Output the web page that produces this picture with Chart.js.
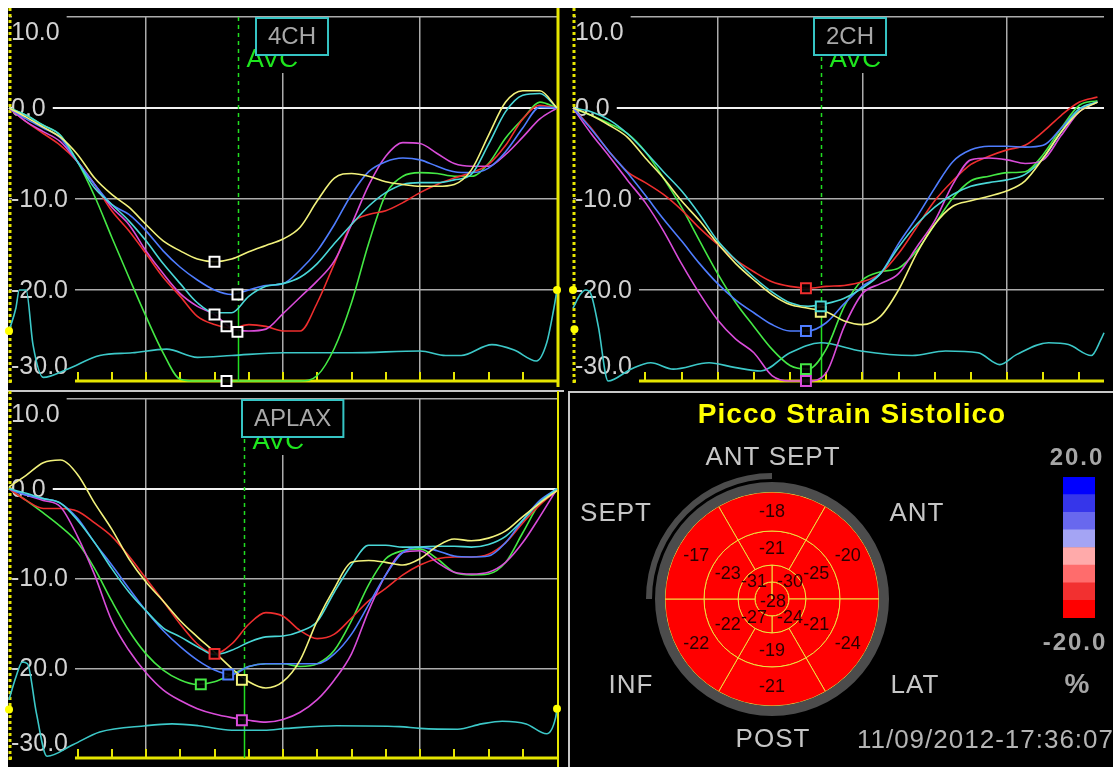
<!DOCTYPE html>
<html><head><meta charset="utf-8">
<script src="https://cdn.jsdelivr.net/npm/chart.js@4.4.1/dist/chart.umd.min.js"></script>
<style>
html,body{margin:0;padding:0;background:#fff;width:1113px;height:767px;overflow:hidden;}
#bg{position:absolute;left:8px;top:8px;width:1105px;height:759px;background:#000;}
canvas{position:absolute;}
.ln{position:absolute;background:#c8c8c8;}
</style></head><body>
<div id="bg"></div>
<div class="ln" style="left:8px;top:390px;width:556px;height:2px;"></div>
<div class="ln" style="left:568px;top:391px;width:2px;height:376px;"></div>
<div class="ln" style="left:568px;top:391px;width:545px;height:2px;"></div>
<canvas id="c4" width="566" height="390" style="left:0;top:0"></canvas>
<canvas id="c2" width="549" height="390" style="left:564px;top:0"></canvas>
<canvas id="c3" width="566" height="379" style="left:0;top:388px"></canvas>
<canvas id="cb" width="544" height="375" style="left:569px;top:392px"></canvas>
<canvas id="cbar" width="32" height="141" style="left:1063px;top:477px"></canvas>
<script>
// ---------- time axes (tick units) ----------
const T16 = [0,0.5,1,1.5,2,2.5,3,3.5,4,4.5,5,5.5,6,6.5,7,7.5,8,8.5,9,9.5,10,10.5,11,11.5,12,12.5,13,13.5,14,14.5,15,15.5,16];
const T2CH = [0,0.5,1,1.5,2,2.5,3,3.5,4,4.5,5,5.5,6,6.5,7,7.5,8,8.5,9,9.5,10,10.5,11,11.5,12,12.5,13,13.5,14,14.5];
const Y_TICKS = [10, 0, -10, -20, -30];
const Y_TICK_TEXT = ['10.0', '0.0', '-10.0', '-20.0', '-30.0'];

// ---------- 4CH strain curves (%) ----------
const ch4Yellow  = [0,-1.0,-2.1,-3.2,-5.1,-7.7,-9.5,-10.9,-12.8,-14.6,-15.7,-16.6,-16.9,-16.6,-15.8,-15.1,-14.4,-13.1,-10.2,-7.7,-7.2,-7.5,-8.1,-8.4,-8.6,-8.6,-8.4,-6.8,-3.0,0.65,1.9,1.9,0];
const ch4Cyan    = [0,-0.8,-1.9,-3.0,-5.9,-8.8,-10.6,-12.4,-14.6,-17.1,-19.3,-21.4,-22.5,-22.5,-20.7,-19.6,-19.3,-18.6,-17.1,-14.9,-12.8,-10.8,-9.3,-8.4,-8.2,-8.2,-7.9,-7.3,-4.0,-0.4,1.4,1.6,0];
const ch4Blue    = [0,-1.2,-2.2,-3.3,-5.9,-8.4,-10.6,-11.7,-13.5,-15.7,-17.5,-18.9,-20.0,-20.5,-20.0,-19.5,-19.3,-17.8,-15.7,-12.8,-9.5,-7.0,-5.9,-5.5,-5.7,-6.4,-7.0,-7.1,-6.6,-4.8,-2.2,0.1,0];
const ch4Magenta = [0,-1.5,-2.6,-3.7,-5.9,-8.4,-10.9,-12.8,-15.7,-18.2,-20.4,-21.8,-22.7,-24.2,-24.5,-24.3,-22.6,-20.8,-19.0,-16.8,-12.8,-8.5,-5.3,-3.8,-3.9,-5.0,-6.1,-6.4,-6.4,-5.1,-3.2,-1.2,0];
const ch4Red     = [0,-1.5,-2.8,-4.1,-5.9,-8.4,-11.3,-13.5,-16.0,-18.6,-20.7,-22.9,-23.8,-24.2,-23.8,-24.0,-24.5,-24.5,-21.4,-17.1,-12.8,-11.7,-11.3,-10.4,-9.3,-8.4,-7.7,-7.1,-6.2,-4.1,-1.2,0.3,0];
const ch4Green   = [0,-0.8,-1.9,-3.0,-5.9,-9.7,-14.2,-18.6,-22.9,-26.9,-29.8,-30,-30,-30,-30,-30,-30,-30,-29.4,-26.4,-21.4,-14.9,-9.5,-7.5,-7.1,-7.2,-7.5,-7.5,-6.1,-3.3,-1.2,0.65,0];
const ch4PeakT = [6.0, 6.0, 6.67, 6.67, 6.35, 6.35];
const ch4PeakV = [-16.9, -22.7, -20.5, -24.6, -24.0, -30];
const ch4EcgT = [0,0.2,0.3,0.5,0.7,1.0,1.7,2.65,3.6,4.6,5.5,6.5,8,10,12,12.75,13.2,14.1,14.75,15.4,15.7,15.9,16];
const ch4EcgV = [-24.5,-22,-20,-20,-26,-29.6,-28.7,-27.2,-26.9,-26.5,-27.4,-27.2,-26.9,-26.9,-26.7,-27.2,-27.2,-26.0,-26.6,-27.8,-25.8,-22.2,-20];
const ch4CursorT = [0, 16];
const ch4CursorV = [-24.5, -20];

// ---------- 2CH strain curves (%) ----------
const ch2Yellow  = [0,-0.8,-1.9,-3.2,-5.5,-7.7,-10.2,-12.4,-14.9,-17.1,-18.9,-20.5,-21.6,-22.0,-22.4,-23.4,-23.8,-22.9,-20.0,-16.0,-12.8,-10.8,-10.2,-9.7,-9.1,-8.0,-5.5,-2.6,-0.4,0.65];
const ch2Cyan    = [0,-0.4,-1.3,-2.8,-4.8,-7.0,-9.1,-11.7,-14.6,-16.7,-18.6,-20.2,-21.4,-21.8,-21.5,-20.9,-19.8,-18.2,-15.3,-12.8,-10.9,-9.5,-8.6,-8.2,-7.9,-7.3,-5.5,-2.6,-0.1,0.65];
const ch2Blue    = [0,-2.3,-4.8,-7.1,-9.6,-12.2,-14.6,-17.1,-19.3,-21.1,-22.5,-23.8,-24.5,-24.5,-23.6,-21.5,-19.6,-18.2,-14.9,-12.0,-8.8,-5.9,-4.6,-4.2,-4.2,-4.3,-4.1,-2.2,-0.1,0.65];
const ch2Magenta = [0,-2.8,-5.3,-7.9,-10.4,-13.5,-17.1,-20.4,-23.3,-25.4,-26.9,-29.4,-30,-30,-29.1,-24.0,-20.4,-19.3,-18.2,-15.3,-12.4,-8.4,-5.7,-5.5,-5.7,-6.1,-5.7,-3.0,-0.4,0.65];
const ch2Red     = [0,-2.2,-4.8,-7.0,-8.2,-9.5,-11.2,-13.2,-15.0,-16.7,-18.0,-19.1,-19.6,-19.8,-19.6,-19.5,-19.1,-18.2,-16.0,-13.1,-10.2,-8.0,-6.2,-5.3,-4.6,-4.1,-2.6,-0.8,0.65,1.2];
const ch2Green   = [0,-0.8,-1.7,-2.8,-4.8,-7.7,-10.9,-14.6,-18.2,-21.4,-24.0,-26.5,-28.3,-28.7,-26.5,-21.8,-18.9,-18.0,-17.6,-15.7,-12.8,-9.9,-8.0,-7.5,-7.1,-7.0,-5.1,-2.2,0.3,0.8];
const ch2PeakT = [6.85, 6.85, 6.44, 6.44, 6.44, 6.44];
const ch2PeakV = [-22.4, -21.8, -24.5, -30, -19.8, -28.7];
const ch2EcgT = [0,0.2,0.35,0.5,0.7,0.97,1.6,2.15,2.77,3.76,4.46,5.19,6.0,6.85,7.96,9.38,10.3,11.2,11.8,12.26,13.15,13.7,14.33,14.6,14.68];
const ch2EcgV = [-22,-20.5,-20,-20.5,-24,-30,-28.7,-28.0,-28.7,-28.0,-28.5,-28.9,-26.9,-25.8,-26.7,-27.2,-26.7,-26.9,-28.2,-27.1,-25.8,-26.0,-27.2,-25.4,-24.7];
const ch2CursorT = [0, 0.04];
const ch2CursorV = [-20, -24.3];

// ---------- APLAX strain curves (%) ----------
const ch3Yellow  = [0.2,1.5,2.9,3.2,1.6,-1.6,-4.5,-7.8,-10.4,-12.5,-14.7,-16.5,-18.2,-20.0,-21.5,-22.2,-21.5,-19.1,-14.7,-11.1,-8.2,-8.0,-8.2,-8.5,-7.8,-6.4,-5.6,-5.8,-5.5,-4.7,-3.1,-1.6,-0.2];
const ch3Cyan    = [0,-0.5,-1.1,-1.6,-3.5,-6.0,-8.9,-11.5,-13.6,-15.5,-16.5,-17.6,-18.5,-18.0,-17.1,-16.5,-16.4,-15.9,-14.8,-11.5,-8.5,-6.3,-6.3,-6.5,-6.5,-6.4,-6.4,-6.5,-6.2,-5.3,-3.5,-1.5,0];
const ch3Blue    = [0,-0.7,-1.1,-1.6,-3.3,-6.0,-8.5,-11.1,-13.6,-15.8,-17.6,-19.1,-20.2,-20.7,-19.8,-19.5,-19.5,-19.5,-19.5,-18.4,-16.2,-12.9,-9.6,-7.1,-6.5,-6.9,-7.5,-7.6,-7.5,-6.0,-3.5,-1.3,0];
const ch3Magenta = [0,-0.7,-1.3,-2.0,-5.3,-9.6,-14.7,-18.0,-20.5,-22.4,-23.6,-24.5,-25.1,-25.5,-25.8,-26.0,-25.7,-24.9,-23.5,-21.3,-18.4,-13.6,-9.6,-7.1,-6.9,-8.2,-9.3,-9.5,-9.3,-8.2,-6.0,-3.1,0];
const ch3Red     = [0,-1.3,-2.2,-2.2,-2.5,-3.8,-5.3,-7.5,-10.0,-12.5,-15.1,-17.3,-18.4,-17.3,-15.1,-13.8,-14.2,-15.8,-16.7,-16.2,-14.4,-12.5,-11.1,-9.6,-8.5,-7.8,-7.6,-7.6,-7.3,-6.0,-3.8,-1.8,-0.2];
const ch3Green   = [0,-1.3,-2.7,-4.2,-6.0,-8.9,-12.5,-15.8,-18.4,-20.2,-21.3,-21.8,-21.5,-20.7,-19.8,-19.5,-19.5,-19.8,-19.5,-18.0,-14.7,-10.7,-7.8,-6.9,-6.7,-7.8,-9.3,-9.6,-9.5,-8.2,-4.9,-1.6,0];
const ch3PeakT = [6.8, 6.0, 6.4, 6.8, 6.0, 5.6];
const ch3PeakV = [-21.3, null, -20.7, -25.8, -18.4, -21.8];
const ch3EcgT = [0,0.2,0.39,0.54,0.8,1.11,1.88,2.65,4.0,4.76,5.53,6.5,7.45,8.1,9.57,11.4,12.0,13.1,13.8,14.4,15.1,15.7,15.96,16];
const ch3EcgV = [-23.5,-21,-19.3,-19.5,-25,-29.8,-28.5,-27.1,-26.4,-26.2,-26.4,-26.9,-26.9,-26.7,-26.4,-26.5,-26.7,-26.8,-26.2,-25.9,-26.2,-27.3,-25.5,-24.5];
const ch3CursorT = [0, 16];
const ch3CursorV = [-24.6, -24.5];

// ---------- bull's-eye (peak systolic strain, %) ----------
const ringBasal  = [-18, -20, -24, -21, -22, -17];   // clockwise from ANT SEPT
const ringMid    = [-21, -25, -21, -19, -22, -23];
const ringApical = [-30, -24, -27, -31];             // clockwise from 12 o'clock
const ringApex   = [-28];
const spanBasal  = [60, 60, 60, 60, 60, 60];
const spanMid    = [60, 60, 60, 60, 60, 60];
const spanApical = [90, 90, 90, 90];
const spanApex   = [360];
const regionNames = ['ANT SEPT', 'SEPT', 'ANT', 'INF', 'LAT', 'POST'];
const cbEdges  = [-20, -15, -10, -5, 0, 5, 10, 15, 20];
const cbColors = ['#ff0000', '#f23030', '#ff6c6c', '#ffaaaa', '#a4a4f4', '#6868ee', '#3636ea', '#0000ff'];

// ---------- styles ----------
const COLORS = ['#f2f27c', '#4ad8d8', '#4f7dff', '#d94cd9', '#ee2e2e', '#44e844'];
const ECG_COLOR = '#3cc8c8';
const AXIS_YELLOW = '#e6e600';
const GRID = '#acacac';
const FONT = '"Liberation Sans", Arial, sans-serif';

function colorFor(v) {
  for (let i = 0; i < cbEdges.length - 1; i++) if (v < cbEdges[i + 1]) return cbColors[i];
  return cbColors[cbColors.length - 1];
}

const PANEL = {};

const decorPlugin = {
  id: 'decor',
  beforeDatasetsDraw(chart) {
    const p = PANEL[chart.canvas.id];
    const {ctx, chartArea: a, scales: {x, y}} = chart;
    ctx.save();
    // left dashed axis
    ctx.strokeStyle = AXIS_YELLOW; ctx.lineWidth = 3; ctx.setLineDash([3, 3]);
    ctx.beginPath(); ctx.moveTo(a.left + 1, p.leftTop); ctx.lineTo(a.left + 1, a.bottom + 3); ctx.stroke();
    ctx.setLineDash([]);
    if (p.rightW) {
      ctx.lineWidth = p.rightW;
      ctx.beginPath(); ctx.moveTo(a.right + 1, p.rightTop); ctx.lineTo(a.right + 1, p.rightBottom); ctx.stroke();
    }
    // bottom axis with inner ticks
    ctx.lineWidth = 3;
    ctx.beginPath(); ctx.moveTo(a.left, a.bottom); ctx.lineTo(a.right, a.bottom); ctx.stroke();
    ctx.lineWidth = 2; ctx.beginPath();
    p.minorTicks.forEach(t => { const px = Math.round(x.getPixelForValue(t)); ctx.moveTo(px, a.bottom); ctx.lineTo(px, a.bottom - 9); });
    ctx.stroke();
    // AVC marker line
    const ax = Math.round(x.getPixelForValue(p.avcT)) + 0.5;
    const ys = y.getPixelForValue(p.avcSolidFrom);
    ctx.strokeStyle = '#22dd22'; ctx.lineWidth = 1.5; ctx.setLineDash([4, 4]);
    ctx.beginPath(); ctx.moveTo(ax, a.top); ctx.lineTo(ax, ys); ctx.stroke();
    ctx.setLineDash([]);
    ctx.beginPath(); ctx.moveTo(ax, ys); ctx.lineTo(ax, a.bottom); ctx.stroke();
    // y labels on black plates
    ctx.font = '25px ' + FONT; ctx.textAlign = 'left'; ctx.textBaseline = 'middle';
    Y_TICKS.forEach((v, i) => {
      const txt = Y_TICK_TEXT[i];
      let cy = y.getPixelForValue(v);
      if (i === 0) cy += 15;
      if (i === Y_TICKS.length - 1) cy -= 15;
      const w = ctx.measureText(txt).width;
      const top = i === 0 ? a.top - 3 : cy - 13;
      const bot = i === Y_TICKS.length - 1 ? a.bottom + 3 : cy + 13;
      ctx.fillStyle = '#000'; ctx.fillRect(a.left + 3, top, w + 6, bot - top);
      ctx.fillStyle = '#d2d2d2'; ctx.fillText(txt, a.left + 2, cy + 1);
    });
    // AVC label (partly hidden under the view box)
    ctx.font = '26px ' + FONT; ctx.textBaseline = 'alphabetic';
    const tw = ctx.measureText('AVC').width;
    ctx.fillStyle = '#000'; ctx.fillRect(ax + 6, a.top + 2, tw + 8, 54);
    ctx.fillStyle = '#1ee61e'; ctx.fillText('AVC', ax + 8, a.top + 50);
    // view box
    ctx.font = '24px ' + FONT;
    const bw = ctx.measureText(p.boxText).width + 24;
    const bc = x.getPixelForValue(p.boxT);
    const bx = Math.round(bc - bw / 2);
    ctx.fillStyle = '#000'; ctx.fillRect(bx, a.top, bw, 38);
    ctx.strokeStyle = '#36c4c4'; ctx.lineWidth = 2; ctx.strokeRect(bx, a.top + 1, bw, 37);
    ctx.fillStyle = '#a8a8a8'; ctx.textAlign = 'center'; ctx.textBaseline = 'middle';
    ctx.fillText(p.boxText, bx + bw / 2, a.top + 20);
    ctx.restore();
  }
};

function lineDs(T, V, color, w) {
  return { type: 'line', data: T.map((t, i) => ({x: t, y: V[i]})), borderColor: color, borderWidth: w,
           pointRadius: 0, cubicInterpolationMode: 'monotone', fill: false, clip: 4 };
}

function buildPanel(id, p) {
  PANEL[id] = p;
  const datasets = [];
  datasets.push({ type: 'scatter', data: p.peakT.map((t, i) => ({x: t, y: p.peakV[i]})), pointStyle: 'rect',
    pointRadius: 7, pointBorderWidth: 2, pointBorderColor: p.markColors, pointBackgroundColor: 'rgba(0,0,0,0.9)', clip: false });
  datasets.push({ type: 'scatter', data: p.cursorT.map((t, i) => ({x: t, y: p.cursorV[i]})), pointRadius: 4,
    pointBorderWidth: 0, pointBackgroundColor: '#ffff00', clip: false });
  p.series.forEach((V, i) => datasets.push(lineDs(p.T, V, COLORS[i], 1.6)));
  datasets.push(lineDs(p.ecgT, p.ecgV, ECG_COLOR, 1.6));
  new Chart(document.getElementById(id), {
    type: 'line',
    data: { datasets },
    options: {
      responsive: false, animation: false, devicePixelRatio: 1, events: [],
      layout: { padding: p.padding },
      plugins: { legend: { display: false }, tooltip: { enabled: false } },
      scales: {
        x: { type: 'linear', min: 0, max: p.xMax,
             ticks: { display: false, stepSize: 4 },
             grid: { drawTicks: false, lineWidth: 1.5,
                     color: c => [4, 8, 12].includes(c.tick.value) ? GRID : 'rgba(0,0,0,0)' },
             border: { display: false } },
        y: { type: 'linear', min: -30, max: 10,
             ticks: { display: false, stepSize: 10 },
             grid: { drawTicks: false,
                     lineWidth: c => c.tick.value === 0 ? 2 : 1.5,
                     color: c => c.tick.value === 0 ? '#f2f2f2' : (c.tick.value === -30 ? 'rgba(0,0,0,0)' : GRID) },
             border: { display: false } }
      }
    },
    plugins: [decorPlugin]
  });
}

const WHITE6 = ['#ffffff','#ffffff','#ffffff','#ffffff','#ffffff','#ffffff'];
buildPanel('c4', { T: T16, series: [ch4Yellow, ch4Cyan, ch4Blue, ch4Magenta, ch4Red, ch4Green],
  peakT: ch4PeakT, peakV: ch4PeakV, markColors: WHITE6, ecgT: ch4EcgT, ecgV: ch4EcgV,
  cursorT: ch4CursorT, cursorV: ch4CursorV,
  padding: {left: 8, top: 17, right: 3, bottom: 6}, xMax: 16, minorTicks: [2,3,4,5,6,7,8,9,10,11,12,13,14,15],
  avcT: 6.69, avcSolidFrom: -22, boxT: 8.27, boxText: '4CH', leftTop: 8, rightW: 3, rightTop: 8, rightBottom: 387 });
buildPanel('c2', { T: T2CH, series: [ch2Yellow, ch2Cyan, ch2Blue, ch2Magenta, ch2Red, ch2Green],
  peakT: ch2PeakT, peakV: ch2PeakV, markColors: COLORS, ecgT: ch2EcgT, ecgV: ch2EcgV,
  cursorT: ch2CursorT, cursorV: ch2CursorV,
  padding: {left: 3, top: 17, right: 0, bottom: 6}, xMax: 14.68, minorTicks: [2,3,4,5,6,7,8,9,10,11,12,13,14],
  avcT: 6.85, avcSolidFrom: -21.5, boxT: 7.66, boxText: '2CH', leftTop: 8, rightW: 0 });
buildPanel('c3', { T: T16, series: [ch3Yellow, ch3Cyan, ch3Blue, ch3Magenta, ch3Red, ch3Green],
  peakT: ch3PeakT, peakV: ch3PeakV, markColors: COLORS, ecgT: ch3EcgT, ecgV: ch3EcgV,
  cursorT: ch3CursorT, cursorV: ch3CursorV,
  padding: {left: 8, top: 11, right: 3, bottom: 2}, xMax: 16, minorTicks: [2,3,4,5,6,7,8,9,10,11,12,13,14,15],
  avcT: 6.85, avcSolidFrom: -19.5, boxT: 8.27, boxText: 'APLAX', leftTop: 3, rightW: 2, rightTop: 3, rightBottom: 379 });

// ---------- bull's-eye ----------
const SEG_BORDER = '#f0e040';
const bullText = {
  id: 'bullText',
  afterDatasetsDraw(chart) {
    const ctx = chart.ctx;
    ctx.save();
    ctx.textAlign = 'center'; ctx.textBaseline = 'middle';
    ctx.font = '18px ' + FONT; ctx.fillStyle = '#2a0000';
    [[3, ringBasal], [4, ringMid], [5, ringApical]].forEach(([di, vals]) => {
      chart.getDatasetMeta(di).data.forEach((arc, i) => {
        const pt = arc.tooltipPosition();
        ctx.fillText(String(vals[i]), pt.x, pt.y + 1);
      });
    });
    const apex = chart.getDatasetMeta(6).data[0];
    ctx.fillText(String(ringApex[0]), apex.x + 1, apex.y + 3);
    const cx = apex.x, cy = apex.y;
    // title
    ctx.font = 'bold 28px ' + FONT; ctx.fillStyle = '#ffff00'; ctx.letterSpacing = '1px';
    ctx.fillText('Picco Strain Sistolico', cx + 80, cy - 184);
    // region names
    ctx.font = '26px ' + FONT; ctx.fillStyle = '#c6c6c6';
    const off = [[1, -141], [-156, -85], [145, -85], [-141, 87], [143, 87], [1, 141]];
    regionNames.forEach((n, i) => ctx.fillText(n, cx + off[i][0], cy + off[i][1]));
    // colour-bar captions
    ctx.font = 'bold 24px ' + FONT; ctx.fillStyle = '#a6a6a6'; ctx.letterSpacing = '2px';
    ctx.fillText(cbEdges[cbEdges.length - 1].toFixed(1), cx + 305, cy - 141);
    ctx.fillText(cbEdges[0].toFixed(1), cx + 303, cy + 44);
    ctx.font = 'bold 28px ' + FONT; ctx.letterSpacing = '0px';
    ctx.fillText('%', cx + 305, cy + 86);
    // date stamp
    ctx.font = '26px ' + FONT; ctx.fillStyle = '#b4b4b4'; ctx.letterSpacing = '1px'; ctx.textAlign = 'right';
    ctx.fillText('11/09/2012-17:36:07', chart.width + 1, cy + 142);
    ctx.restore();
  }
};
new Chart(document.getElementById('cb'), {
  type: 'doughnut',
  data: { datasets: [
    { data: [90], rotation: 270, circumference: 90, backgroundColor: ['#4c4c4c'], borderWidth: 0, weight: 6 },
    { data: [360], backgroundColor: ['rgba(0,0,0,0)'], borderWidth: 0, weight: 3 },
    { data: [360], backgroundColor: ['#4c4c4c'], borderWidth: 0, weight: 10 },
    { data: spanBasal, rotation: -30, backgroundColor: ringBasal.map(colorFor), borderColor: SEG_BORDER, borderWidth: 1, weight: 39 },
    { data: spanMid, rotation: -30, backgroundColor: ringMid.map(colorFor), borderColor: SEG_BORDER, borderWidth: 1, weight: 34 },
    { data: spanApical, rotation: 0, backgroundColor: ringApical.map(colorFor), borderColor: SEG_BORDER, borderWidth: 1, weight: 17 },
    { data: spanApex, backgroundColor: ringApex.map(colorFor), borderColor: SEG_BORDER, borderWidth: 1, weight: 17 }
  ]},
  options: { responsive: false, animation: false, devicePixelRatio: 1, events: [], cutout: 0, radius: 126,
    layout: { padding: {left: 0, right: 138, top: 40, bottom: 1} },
    plugins: { legend: { display: false }, tooltip: { enabled: false } } },
  plugins: [bullText]
});

// ---------- colour bar ----------
new Chart(document.getElementById('cbar'), {
  type: 'bar',
  data: { labels: ['%'], datasets: cbColors.map((c, i) => ({
    data: [[cbEdges[i], cbEdges[i + 1]]], backgroundColor: c, borderWidth: 0,
    barPercentage: 1, categoryPercentage: 1, grouped: false })) },
  options: { responsive: false, animation: false, devicePixelRatio: 1, events: [],
    layout: { padding: 0 },
    plugins: { legend: { display: false }, tooltip: { enabled: false } },
    scales: { x: { display: false }, y: { display: false, min: -20, max: 20 } } }
});
</script>
</body></html>
